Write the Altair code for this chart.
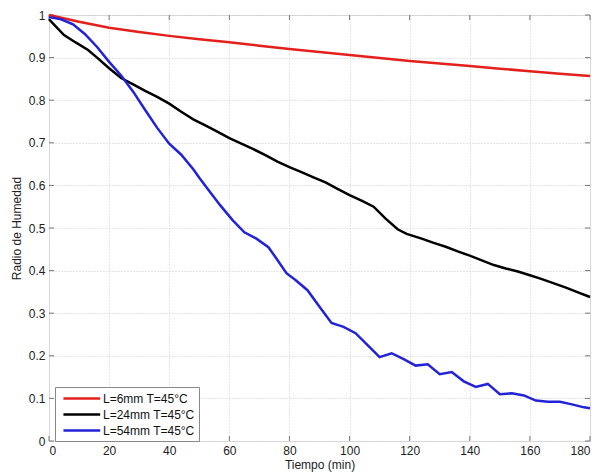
import altair as alt
import pandas as pd

series_names = ["L=6mm T=45°C", "L=24mm T=45°C", "L=54mm T=45°C"]
series_colors = ["#e3201c", "#000000", "#2222d8"]

t_red = [0, 10, 20, 30, 40, 50, 60, 70, 80, 90, 100, 110, 120, 130, 140, 150, 160, 170, 180]
v_red = [1.0, 0.984, 0.970, 0.960, 0.951, 0.943, 0.936, 0.928, 0.920, 0.913, 0.906, 0.899,
         0.892, 0.886, 0.880, 0.874, 0.868, 0.862, 0.857]

t_black = [0, 2, 5, 9, 13, 16, 20, 24, 28, 32, 36, 40, 44, 48, 52, 56, 60, 64, 68, 72, 76, 80,
           84, 88, 92, 96, 100, 104, 108, 112, 116, 119, 124, 128, 132, 136, 140, 144, 148,
           152, 156, 160, 164, 168, 172, 176, 180]
v_black = [0.99, 0.975, 0.953, 0.935, 0.918, 0.9, 0.875, 0.852, 0.837, 0.822, 0.808, 0.792,
           0.773, 0.755, 0.741, 0.726, 0.711, 0.698, 0.685, 0.671, 0.656, 0.643, 0.631, 0.619,
           0.607, 0.592, 0.577, 0.564, 0.55, 0.522, 0.497, 0.486, 0.475, 0.465, 0.456, 0.445,
           0.435, 0.424, 0.413, 0.405, 0.398, 0.389, 0.38, 0.37, 0.36, 0.349, 0.338]

t_blue = [0, 4, 8, 12, 16, 20, 24, 28, 32, 36, 40, 44, 48, 50, 53, 57, 61, 65, 69, 73, 76, 79,
          82, 86, 90, 94, 98, 102, 106, 110, 114, 118, 122, 126, 130, 134, 138, 142, 146, 150,
          154, 158, 162, 166, 170, 174, 178, 180]
v_blue = [0.995, 0.99, 0.978, 0.955, 0.925, 0.89, 0.858, 0.82, 0.777, 0.735, 0.698, 0.672,
          0.638, 0.618, 0.59, 0.553, 0.519, 0.49, 0.475, 0.455, 0.425, 0.394, 0.378, 0.354,
          0.315, 0.277, 0.268, 0.253, 0.225, 0.197, 0.206, 0.192, 0.177, 0.18, 0.157, 0.162,
          0.14, 0.127, 0.134, 0.11, 0.112, 0.107, 0.095, 0.092, 0.092, 0.086, 0.079, 0.077]

x_ticks = [0, 20, 40, 60, 80, 100, 120, 140, 160, 180]
y_ticks = [0, 0.1, 0.2, 0.3, 0.4, 0.5, 0.6, 0.7, 0.8, 0.9, 1]

rows = []
for name, ts, vs in zip(series_names, [t_red, t_black, t_blue], [v_red, v_black, v_blue]):
    for t, v in zip(ts, vs):
        rows.append({"t": t, "v": v, "serie": name})
df = pd.DataFrame(rows)

W, H = 541, 426
FONT = "Liberation Sans"

xscale = alt.Scale(domain=[0, 180], nice=False, zero=False)
yscale = alt.Scale(domain=[0, 1], nice=False)

lines = alt.Chart(df).mark_line(strokeWidth=2.5).encode(
    x=alt.X("t:Q", scale=xscale,
            axis=alt.Axis(values=x_ticks, title="Tiempo (min)", format="d",
                          grid=True, gridColor="#c8c8c8", gridDash=[1, 2],
                          tickSize=0, domain=False, labelPadding=4,
                          labelFont=FONT, labelFontSize=12, labelColor="#222",
                          titleFont=FONT, titleFontSize=12, titleFontWeight="normal",
                          titleColor="#222", titlePadding=3)),
    y=alt.Y("v:Q", scale=yscale,
            axis=alt.Axis(values=y_ticks, title="Radio de Humedad", format="~g",
                          grid=True, gridColor="#c8c8c8", gridDash=[1, 2],
                          tickSize=0, domain=False, labelPadding=4,
                          labelFont=FONT, labelFontSize=12, labelColor="#222",
                          titleFont=FONT, titleFontSize=12, titleFontWeight="normal",
                          titleColor="#222", titlePadding=5)),
    color=alt.Color("serie:N",
                    scale=alt.Scale(domain=series_names, range=series_colors),
                    sort=series_names,
                    legend=alt.Legend(title=None, orient="none", legendX=6, legendY=372,
                                      symbolType="M-0.5,0H5.5", symbolSize=150,
                                      symbolStrokeWidth=2.5, labelFont=FONT,
                                      labelFontSize=12, labelColor="#111",
                                      strokeColor="#888", fillColor="white",
                                      padding=4, rowPadding=2, labelOffset=29,
                                      offset=0)),
    order=alt.Order("t:Q"),
)

xt = pd.DataFrame({"x": x_ticks})
yt = pd.DataFrame({"y": y_ticks})
tick_col = "#777"
bottom_ticks = alt.Chart(xt).mark_rule(color=tick_col).encode(
    x=alt.X("x:Q", scale=xscale), y=alt.value(H), y2=alt.value(H - 5))
top_ticks = alt.Chart(xt).mark_rule(color=tick_col).encode(
    x=alt.X("x:Q", scale=xscale), y=alt.value(0), y2=alt.value(5))
left_ticks = alt.Chart(yt).mark_rule(color=tick_col).encode(
    y=alt.Y("y:Q", scale=yscale), x=alt.value(0), x2=alt.value(5))
right_ticks = alt.Chart(yt).mark_rule(color=tick_col).encode(
    y=alt.Y("y:Q", scale=yscale), x=alt.value(W), x2=alt.value(W - 5))

chart = alt.layer(bottom_ticks, top_ticks, left_ticks, right_ticks, lines).properties(
    width=W, height=H,
    autosize=alt.AutoSizeParams(type="none"),
    padding={"left": 49, "top": 15, "right": 13, "bottom": 33},
).configure_view(stroke="#888", strokeWidth=1.2).configure(background="white")

chart.save("out.html", embed_options={"renderer": "svg", "actions": False})
